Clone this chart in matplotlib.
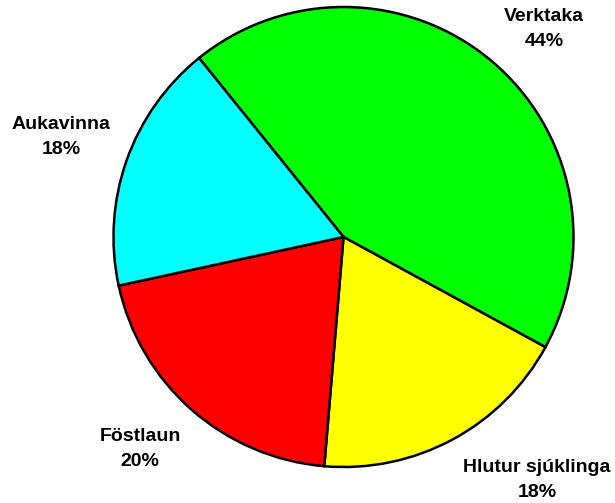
import matplotlib
matplotlib.use("Agg")
import matplotlib.pyplot as plt

# Slice data (clockwise from the top-left boundary)
categories = ['Verktaka', 'Hlutur sjúklinga', 'Föstlaun', 'Aukavinna']
shares = [43.8, 18.4, 20.3, 17.6]
colors = ['#00FF00', '#FFFF00', '#FF0000', '#00FFFF']

# Label block centres in pie units (radius = 1)
label_pos = [(0.872, 0.904), (0.841, -1.057), (-0.885, -0.922), (-1.228, 0.435)]

fig = plt.figure(figsize=(6.15, 5.03), dpi=100)
ax = fig.add_axes([0, 0, 1, 1])

ax.pie(shares, colors=colors, startangle=128.9, counterclock=False,
       radius=1.0, wedgeprops=dict(edgecolor='black', linewidth=1.8))

total = sum(shares)
for name, val, (x, y) in zip(categories, shares, label_pos):
    ax.text(x, y, f"{name}\n{val / total * 100:.0f}%", ha='center', va='center',
            fontsize=14, fontweight='bold', family='Liberation Sans',
            linespacing=1.6)

# Map so that the pie centre sits at (343, 237) px with a 230 px radius
r_px = 230.0
cx, cy = 343.5, 237.0
ax.set_xlim(-cx / r_px, (615 - cx) / r_px)
ax.set_ylim(-(503 - cy) / r_px, cy / r_px)
ax.set_aspect('auto')
ax.axis('off')

fig.savefig('out.png', dpi=100)
